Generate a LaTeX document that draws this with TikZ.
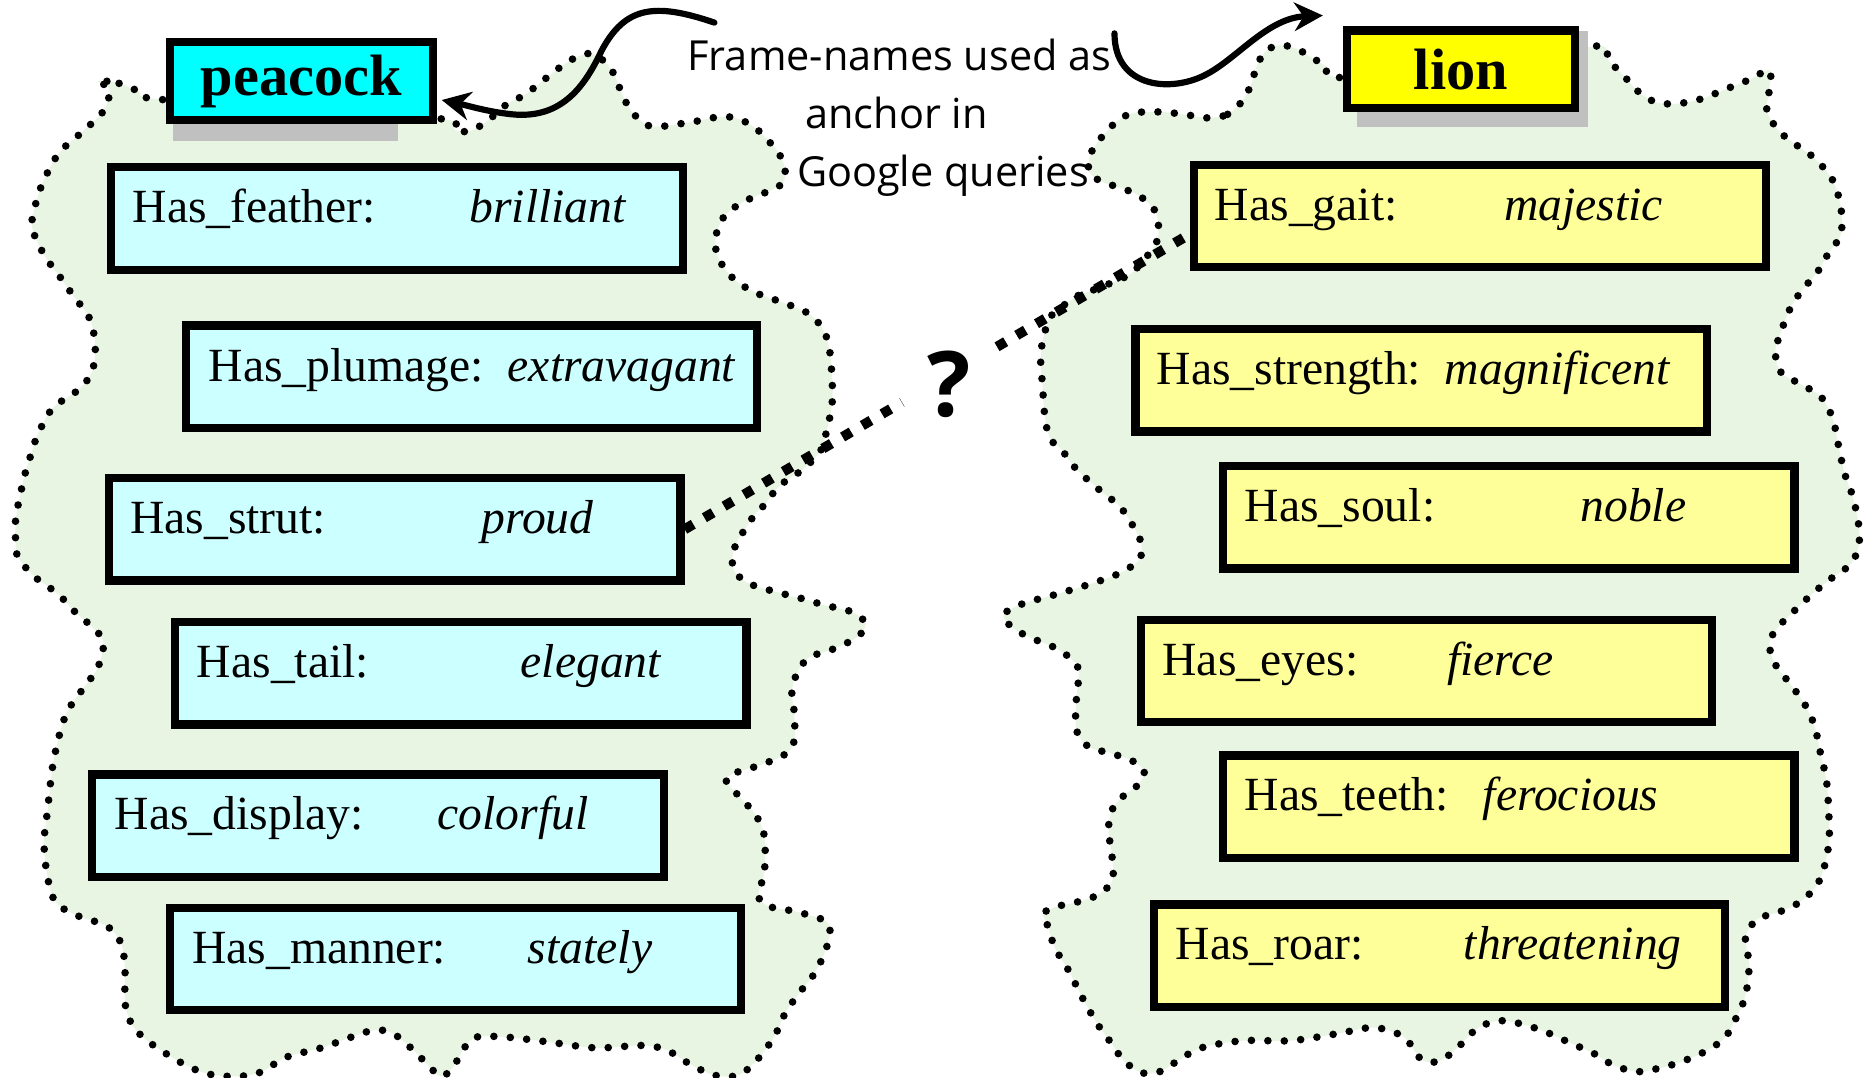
\documentclass[tikz,border=0pt]{standalone}
\usepackage{fontspec}
\setmainfont{Liberation Serif}
\newfontfamily\handfont{Open Sans}
\usetikzlibrary{arrows.meta,calc}
\definecolor{blobgreen}{RGB}{233,245,227}
\definecolor{paleCyan}{RGB}{204,255,255}
\definecolor{paleYellow}{RGB}{255,255,153}
\definecolor{fullCyan}{RGB}{0,255,255}
\definecolor{fullYellow}{RGB}{255,255,0}
\definecolor{shadowgray}{RGB}{192,192,192}

\begin{document}
\begin{tikzpicture}[x=0.5pt,y=-0.5pt,
  blob/.style={fill=blobgreen, draw=black, line width=3.2pt, line cap=round,
    dash pattern=on 0pt off 6.9pt},
  slot/.style={draw=black, line width=3.5pt, minimum width=240pt,
    minimum height=43pt, inner sep=0pt},
  leftslot/.style={slot, fill=paleCyan},
  rightslot/.style={slot, fill=paleYellow},
  key/.style={anchor=base west, inner sep=0pt, font=\fontsize{20}{24}\selectfont},
  val/.style={anchor=base west, inner sep=0pt, font=\fontsize{20}{24}\selectfont\itshape},
  frametitle/.style={draw=black, line width=3.5pt, minimum height=32.5pt,
    inner sep=0pt, font=\fontsize{24.5}{28}\selectfont\bfseries},
  hand/.style={anchor=base west, inner sep=0pt, font=\handfont\fontsize{17.4}{21}\selectfont},
  link/.style={draw=black, line width=4.2pt, dash pattern=on 4.2pt off 5.4pt},
  curvy/.style={draw=black, line width=2.6pt, line cap=round,
    -{Stealth[length=12pt,width=12pt]}},
  qmark/.style={inner sep=0pt, font=\handfont\bfseries\fontsize{38}{40}\selectfont}
]
\useasboundingbox (0,0) rectangle (1568,905);

% peacock frame outline
\draw[blob] plot[smooth cycle, tension=0.55] coordinates {
 (82,68) (100,70) (117,77) (130,83) (250,92) (372,100) (382,109) (395,110)
 (410,101) (425,88) (440,80) (452,71) (467,59) (482,49) (497,45) (510,54)
 (517,65) (522,78) (530,93) (543,105) (557,106) (571,104) (584,102) (598,99)
 (611,98) (623,101) (635,108) (645,118) (653,127) (659,140) (658,153) (647,160)
 (634,165) (620,172) (608,182) (602,195) (601,208) (605,220) (617,235) (635,246)
 (660,255) (680,264) (692,278) (697,296) (699,323) (699,337) (697,350) (694,363)
 (690,377) (683,386) (672,396) (661,403) (651,412) (643,423) (634,432) (626,444)
 (619,455) (615,468) (617,480) (627,489) (640,494) (652,497) (666,501) (679,504)
 (691,508) (705,511) (718,515) (727,524) (720,535) (700,545) (680,552) (670,564)
 (665,581) (667,598) (667,622) (660,633) (640,642) (615,650) (610,656) (620,668)
 (635,685) (642,703) (642,732) (637,752) (645,761) (670,766) (695,775) (695,793)
 (685,816) (672,833) (660,850) (650,871) (635,891) (620,903) (600,903) (580,894)
 (560,882) (540,878) (500,880) (460,875) (425,871) (400,871) (390,880) (380,897)
 (370,904) (360,895) (345,880) (330,868) (315,865) (295,871) (270,880) (240,888)
 (220,900) (200,904) (175,902) (155,894) (135,882) (120,871) (110,859) (105,842)
 (105,816) (102,793) (90,778) (65,769) (47,758) (40,737) (37,708) (40,680)
 (45,639) (55,601) (70,578) (82,561) (87,540) (80,529) (61,512) (52,502)
 (41,493) (31,486) (21,476) (14,465) (13,451) (13,438) (15,425) (18,411)
 (21,398) (25,385) (29,372) (34,360) (45,342) (65,328) (77,313) (80,290)
 (75,267) (62,249) (50,232) (37,214) (27,191) (30,171) (37,151) (50,128)
 (70,110) (87,93) (92,75)};

% lion frame outline
\draw[blob] plot[smooth cycle, tension=0.55] coordinates {
 (1014,99) (1031,96) (1044,84) (1051,70) (1056,54) (1064,42) (1076,38) (1089,41)
 (1101,48) (1114,56) (1124,65) (1230,70) (1338,39) (1351,51) (1364,64) (1376,77)
 (1391,86) (1409,87) (1429,83) (1449,75) (1469,67) (1486,59) (1486,75) (1484,93)
 (1494,110) (1509,122) (1524,133) (1539,151) (1546,174) (1546,197) (1536,212)
 (1526,229) (1514,243) (1504,258) (1496,278) (1491,296) (1496,313) (1511,322)
 (1529,333) (1539,351) (1544,374) (1549,397) (1556,417) (1561,441) (1561,459)
 (1554,474) (1539,485) (1524,497) (1509,511) (1494,526) (1486,540) (1491,558)
 (1504,575) (1516,592) (1524,610) (1529,633) (1534,656) (1536,685) (1536,708)
 (1531,732) (1524,746) (1511,758) (1494,766) (1476,772) (1466,787) (1469,810)
 (1466,836) (1459,853) (1449,871) (1434,882) (1414,891) (1394,897) (1374,900)
 (1354,894) (1339,885) (1319,876) (1294,865) (1269,858) (1254,858) (1239,865)
 (1224,880) (1209,891) (1194,890) (1179,871) (1154,863) (1124,868) (1084,874)
 (1044,874) (1009,880) (989,891) (974,900) (959,901) (944,891) (934,877)
 (921,859) (908,836) (898,816) (886,796) (879,775) (876,767) (889,761) (903,758)
 (921,752) (934,740) (934,720) (931,697) (934,680) (944,668) (956,659) (961,648)
 (951,639) (934,633) (914,627) (904,613) (904,587) (906,563) (898,552) (884,543)
 (864,535) (849,526) (843,516) (859,507) (884,500) (914,491) (939,482) (956,471)
 (959,459) (954,446) (941,426) (924,412) (904,394) (891,377) (883,370) (879,359)
 (877,345) (876,331) (875,317) (874,304) (875,290) (878,277) (883,265) (904,249)
 (917,244) (942,234) (953,227) (970,206) (973,193) (971,179) (963,169) (952,162)
 (939,157) (926,153) (915,145) (915,132) (920,122) (928,112) (938,102) (951,95)
 (974,94) (994,96)};

% drop shadows of the frame names
\fill[shadowgray] (145,40) rectangle (334,118);
\fill[shadowgray] (1140,26) rectangle (1334,107);

% frame names
\node[frametitle, fill=fullCyan, minimum width=110.5pt] (pk) at (253,68) {peacock};
\node[frametitle, fill=fullYellow, minimum width=95.5pt] (ln) at (1227,58) {lion};

% peacock slots
\node[leftslot] (b1) at (333.5,183.5) {};
\node[leftslot] (b2) at (396,316.5) {};
\node[leftslot] (b3) at (331.5,444.5) {};
\node[leftslot] (b4) at (387,565.5) {};
\node[leftslot] (b5) at (317.5,693.5) {};
\node[leftslot] (b6) at (382.5,805.5) {};

\node[key] (b1k) at (111,187) {Has\_feather:};
\node[val] (b1v) at (394,187) {brilliant};
\node[key] (b2k) at (175,320) {Has\_plumage:};
\node[val] (b2v) at (426,320) {extravagant};
\node[key] (b3k) at (109,448) {Has\_strut:};
\node[val] (b3v) at (404,448) {proud};
\node[key] (b4k) at (165,569) {Has\_tail:};
\node[val] (b4v) at (437,569) {elegant};
\node[key] (b5k) at (96,697) {Has\_display:};
\node[val] (b5v) at (367,697) {colorful};
\node[key] (b6k) at (161,809) {Has\_manner:};
\node[val] (b6v) at (443,809) {stately};

% lion slots
\node[rightslot] (r1) at (1243,181.5) {};
\node[rightslot] (r2) at (1193.5,319.5) {};
\node[rightslot] (r3) at (1267,434.5) {};
\node[rightslot] (r4) at (1198,563.5) {};
\node[rightslot] (r5) at (1267,677.5) {};
\node[rightslot] (r6) at (1209,802.5) {};

\node[key] (r1k) at (1020,185) {Has\_gait:};
\node[val] (r1v) at (1263,185) {majestic};
\node[key] (r2k) at (971,323) {Has\_strength:};
\node[val] (r2v) at (1213,323) {magnificent};
\node[key] (r3k) at (1045,438) {Has\_soul:};
\node[val] (r3v) at (1327,438) {noble};
\node[key] (r4k) at (976,567) {Has\_eyes:};
\node[val] (r4v) at (1215,567) {fierce};
\node[key] (r5k) at (1045,681) {Has\_teeth:};
\node[val] (r5v) at (1245,681) {ferocious};
\node[key] (r6k) at (987,806) {Has\_roar:};
\node[val] (r6v) at (1229,806) {threatening};

% note on the frame names
\node[hand] (t1) at (577,59) {Frame-names used as};
\node[hand] (t2) at (676,108) {anchor in};
\node[hand] (t3) at (669,157) {Google queries};

% arrows from the note to the frame names
\coordinate (n1) at (600,19);
\coordinate (n2) at (936,28);
\coordinate (n3) at (1111,13);
\draw[curvy] (n1) .. controls (550,2) and (525,5) .. (505,43)
  .. controls (490,75) and (470,100) .. (430,96)
  .. controls (410,94) and (390,88) .. ($(pk.east)+(4,16)$);
\draw[curvy] (n2) .. controls (936,75) and (985,78) .. (1014,62)
  .. controls (1040,48) and (1065,15) .. (n3);

% questioned link between strut and gait
\coordinate (gaitin) at ($(r1.west)+(0,15)$);
\coordinate (qa) at ($(b3.east)!0.43!(gaitin)$);
\coordinate (qb) at ($(b3.east)!0.618!(gaitin)$);
\draw[link] (b3.east) -- (qa);
\draw[link] (qb) -- (gaitin);
\node[qmark] (qm) at (797,323) {?};
\end{tikzpicture}
\end{document}
